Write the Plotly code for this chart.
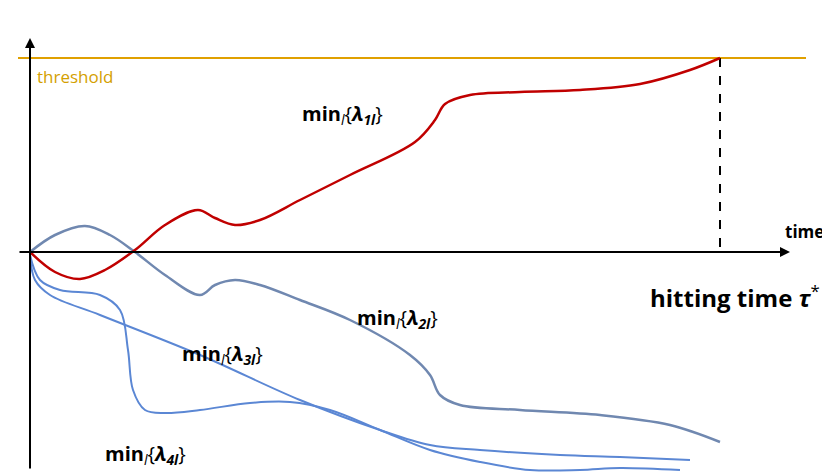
import plotly.graph_objects as go

# schematic curves, read in picture pixel coordinates (x right, y down)
red_x = [30, 55, 80, 105, 135, 165, 198, 215, 235, 260, 300, 350, 415, 435, 445, 470, 520, 580, 640, 690, 720]
red_y = [252, 272, 279, 270, 250, 225, 210, 218, 225, 220, 200, 175, 142, 120, 104, 95, 92, 90, 84, 70, 58]

l2_x = [30, 55, 85, 110, 135, 165, 200, 215, 235, 260, 300, 350, 410, 430, 440, 460, 520, 600, 670, 720]
l2_y = [252, 235, 226, 235, 252, 275, 295, 285, 280, 285, 300, 320, 355, 375, 395, 405, 410, 415, 425, 442]

l3_x = [30, 40, 60, 100, 120, 128, 133, 145, 165, 200, 250, 290, 330, 380, 430, 480, 530, 580, 620, 680]
l3_y = [255, 280, 290, 295, 310, 350, 390, 410, 413, 410, 403, 402, 410, 430, 450, 462, 470, 470, 468, 470]

l4_x = [30, 35, 50, 100, 200, 300, 380, 430, 480, 560, 620, 690]
l4_y = [255, 280, 295, 315, 355, 400, 430, 445, 450, 455, 457, 460]

fig = go.Figure()
fig.add_trace(go.Scatter(x=[18, 806], y=[58, 58], mode="lines", line=dict(color="#e0a000", width=2)))
fig.add_trace(go.Scatter(x=[720, 720], y=[58, 252], mode="lines", line=dict(color="black", width=2, dash="dash")))
fig.add_trace(go.Scatter(x=l2_x, y=l2_y, mode="lines", line=dict(color="#7088b0", width=2.5, shape="spline")))
fig.add_trace(go.Scatter(x=l3_x, y=l3_y, mode="lines", line=dict(color="#5b87d4", width=2, shape="spline")))
fig.add_trace(go.Scatter(x=l4_x, y=l4_y, mode="lines", line=dict(color="#5b87d4", width=2, shape="spline")))
fig.add_trace(go.Scatter(x=red_x, y=red_y, mode="lines", line=dict(color="#c00000", width=2.5, shape="spline")))

arrow = dict(xref="x", yref="y", axref="x", ayref="y", showarrow=True, text="",
             arrowhead=2, arrowsize=1, arrowwidth=2, arrowcolor="black")
anns = [
    dict(x=790, y=252, ax=18, ay=252, **arrow),
    dict(x=30, y=38, ax=30, ay=470, **arrow),
]
f = "'Open Sans', sans-serif"
txt = [
    (5, 14, "<b>LLR</b>", 16, "black", "left"),
    (826, 231, "<b>time</b>", 17, "black", "right"),
    (35, 76, "threshold", 17, "#d4a000", "left"),
    (300, 114, "<b>min</b><sub><i>l</i></sub>{<b><i>λ</i></b><sub><b><i>1l</i></b></sub>}", 20, "black", "left"),
    (355, 318, "<b>min</b><sub><i>l</i></sub>{<b><i>λ</i></b><sub><b><i>2l</i></b></sub>}", 20, "black", "left"),
    (180, 354, "<b>min</b><sub><i>l</i></sub>{<b><i>λ</i></b><sub><b><i>3l</i></b></sub>}", 20, "black", "left"),
    (103, 454, "<b>min</b><sub><i>l</i></sub>{<b><i>λ</i></b><sub><b><i>4l</i></b></sub>}", 20, "black", "left"),
    (822, 296, "<b>hitting time <i>τ</i></b><sup>*</sup>", 24, "black", "right"),
]
for x, y, t, s, c, a in txt:
    anns.append(dict(x=x, y=y, xref="x", yref="y", text=t, showarrow=False, xanchor=a,
                     font=dict(size=s, color=c, family=f)))

# ranges shifted by the page's 8px body margin so marks land where the reference has them
fig.update_layout(
    width=830, height=476, margin=dict(l=0, r=0, t=0, b=0),
    plot_bgcolor="white", paper_bgcolor="white", showlegend=False,
    xaxis=dict(range=[8, 838], visible=False),
    yaxis=dict(range=[484, 8], visible=False),
    annotations=anns,
)
fig.write_html("out.html")
